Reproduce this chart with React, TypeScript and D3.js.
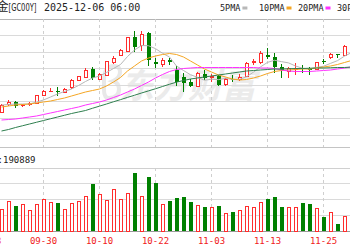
import React from "react";
import * as d3 from "d3";

const stockName = "黄金";
const stockCode = "[GC00Y]";
const stamp = "2025-12-06 06:00";
const maNames = ["5PMA", "10PMA", "20PMA", "30PMA"];
const maColors = ["#b8b8b8", "#f5a623", "#ff33ff", "#2f7f4f"];
const volPrefix = "成交量:";
const volValue = "190889";

const hiddenDates = ["09-18", "09-19"];
const dates = [
  "09-22", "09-23", "09-24", "09-25", "09-26", "09-29", "09-30",
  "10-01", "10-02", "10-03", "10-06", "10-07", "10-08", "10-09", "10-10",
  "10-13", "10-14", "10-15", "10-16", "10-17", "10-20", "10-21", "10-22",
  "10-23", "10-24", "10-27", "10-28", "10-29", "10-30", "10-31", "11-03",
  "11-04", "11-05", "11-06", "11-07", "11-10", "11-11", "11-12", "11-13",
  "11-14", "11-17", "11-18", "11-19", "11-20", "11-21", "11-24", "11-25",
  "11-26", "11-27", "11-28", "12-01",
];
const tickLabels = ["09-18", "09-30", "10-10", "10-22", "11-03", "11-13", "11-25"];

const opens = [
  3724, 3786, 3802, 3778, 3786, 3796, 3860, 3885, 3890, 3882,
  3918, 3980, 4002, 4068, 3988, 4020, 4122, 4180, 4212, 4326,
  4260, 4354, 4126, 4106, 4140, 4060, 4004, 3964, 3932, 4028,
  4004, 4012, 3944, 3992, 3984, 4012, 4124, 4120, 4184, 4164,
  4084, 4052, 4064, 4080, 4070, 4068, 4132, 4158, 4188, 4180,
  4204,
];
const highs = [
  3788, 3822, 3812, 3792, 3808, 3864, 3900, 3920, 3924, 3916,
  3988, 4016, 4078, 4086, 4038, 4132, 4172, 4228, 4328, 4372,
  4372, 4364, 4156, 4154, 4158, 4092, 4036, 3988, 4044, 4060,
  4032, 4020, 3996, 4020, 4028, 4124, 4148, 4212, 4236, 4196,
  4108, 4086, 4116, 4100, 4088, 4128, 4152, 4196, 4192, 4260,
  4276,
];
const lows = [
  3716, 3770, 3758, 3764, 3772, 3792, 3856, 3884, 3852, 3876,
  3912, 3972, 3996, 3980, 3980, 4012, 4106, 4172, 4204, 4206,
  4212, 4092, 4076, 4086, 4100, 3932, 3884, 3924, 3924, 3980,
  3968, 3932, 3936, 3964, 3972, 4004, 4104, 4108, 4152, 4036,
  3996, 3996, 4020, 4036, 4020, 4060, 4108, 4152, 4160, 4172,
  4196,
];
const closes = [
  3780, 3802, 3774, 3780, 3790, 3860, 3886, 3888, 3886, 3908,
  3980, 4006, 4060, 3994, 4026, 4126, 4154, 4220, 4318, 4246,
  4346, 4140, 4106, 4134, 4122, 3964, 3956, 3936, 4032, 4000,
  4008, 3940, 3988, 3984, 4004, 4114, 4128, 4196, 4164, 4086,
  4060, 4076, 4072, 4072, 4064, 4120, 4124, 4186, 4182, 4246,
  4260,
];
const volumes = [
  176000, 240000, 200000, 216000, 168000, 216000, 256000, 232000, 224000, 176000,
  224000, 240000, 280000, 376000, 296000, 248000, 336000, 256000, 304000, 464000,
  276000, 432000, 384000, 216000, 240000, 264000, 276000, 232000, 204000, 192000,
  192000, 204000, 140000, 152000, 168000, 200000, 192000, 232000, 256000, 272000,
  192000, 192000, 192000, 224000, 216000, 184000, 112000, 152000, 56000, 120000,
  190889,
];
const ma5 = [
  3780, 3784, 3788, 3788, 3788, 3804, 3820, 3844, 3868, 3888,
  3908, 3936, 3968, 3996, 4012, 4040, 4072, 4104, 4168, 4220,
  4256, 4254, 4231, 4194, 4164, 4092, 4056, 4022, 4002, 3978,
  3986, 3983, 3994, 3984, 3985, 4006, 4043, 4085, 4121, 4138,
  4127, 4117, 4092, 4074, 4069, 4081, 4090, 4113, 4135, 4171,
  4199,
];
const ma10 = [
  3764, 3772, 3780, 3784, 3788, 3796, 3804, 3812, 3824, 3836,
  3852, 3868, 3884, 3896, 3908, 3932, 3964, 4000, 4052, 4092,
  4132, 4156, 4172, 4184, 4192, 4184, 4164, 4132, 4100, 4068,
  4044, 4020, 4004, 3988, 3980, 3984, 3996, 4012, 4032, 4048,
  4056, 4060, 4064, 4068, 4068, 4076, 4084, 4092, 4104, 4120,
  4136,
];
const ma20 = [
  3660, 3664, 3668, 3676, 3684, 3692, 3704, 3716, 3728, 3740,
  3752, 3764, 3780, 3792, 3804, 3820, 3840, 3860, 3884, 3908,
  3936, 3964, 3996, 4024, 4048, 4064, 4072, 4076, 4080, 4080,
  4080, 4080, 4080, 4080, 4080, 4080, 4080, 4076, 4076, 4072,
  4060, 4052, 4048, 4048, 4048, 4052, 4056, 4060, 4068, 4076,
  4084,
];
const ma30 = [
  3572, 3584, 3600, 3614, 3628, 3642, 3656, 3670, 3684, 3698,
  3712, 3724, 3736, 3754, 3771, 3788, 3806, 3823, 3841, 3858,
  3876, 3893, 3910, 3928, 3946, 3963, 3976, 3988, 3996, 4004,
  4012, 4020, 4028, 4036, 4044, 4052, 4056, 4060, 4064, 4068,
  4068, 4070, 4072, 4072, 4074, 4076, 4076, 4078, 4080, 4080,
  4084,
];

const RED = "#ff2d2d";
const GREEN = "#008000";

export default function App() {
  const W = 350;
  const H = 250;
  const mainTop = 19;
  const mainBottom = 135;
  const volTop = 147;
  const volLabelBottom = 168;
  const volBase = 231;

  const x = d3
    .scalePoint<string>()
    .domain([...hiddenDates, ...dates])
    .range([-12.5, 351.5]);
  const y = d3.scaleLinear().domain([3540, 4468]).range([mainBottom, mainTop]);
  const yv = d3.scaleLinear().domain([0, 504000]).range([volBase, volLabelBottom]);

  const mainGrid = d3.range(1, 8).map((k) => mainTop + (k * (mainBottom - mainTop)) / 7);
  const volGrid = d3.range(1, 4).map((k) => volLabelBottom + (k * (volBase - volLabelBottom)) / 4);

  const maLine = d3
    .line<number>()
    .x((_, i) => x(dates[i]) as number)
    .y((v) => y(v));
  const mas = [ma5, ma10, ma20, ma30];

  const mono = "DejaVu Sans Mono, monospace";

  return (
    <svg
      width={W}
      height={H}
      style={{ position: "absolute", left: 0, top: 0, background: "#fff" }}
      fontFamily={mono}
    >
      <rect x={0} y={0} width={W} height={H} fill="#fff" />

      {/* watermark */}
      <g fill="#ebebeb" opacity={0.9}>
        <path
          d="M104,80 q0,-14 10,-14 q6,0 6,6 q0,6 -7,9 q6,2 6,8 q0,9 -10,9 q-5,0 -5,-8 z"
          fill="none"
          stroke="#e6e6e6"
          strokeWidth={4}
        />
        <text
          x={120}
          y={98}
          fontSize={34}
          fontWeight="bold"
          fontStyle="italic"
          fontFamily="Noto Sans CJK SC"
          fill="#e9e9e9"
        >
          东方财富
        </text>
      </g>

      {/* horizontal grid */}
      <g shapeRendering="crispEdges">
        <line x1={0} x2={W} y1={mainTop} y2={mainTop} stroke="#b4b4b4" />
        {mainGrid.map((gy, i) => (
          <line key={i} x1={0} x2={W} y1={gy} y2={gy} stroke="#dadada" />
        ))}
        <line x1={0} x2={W} y1={volTop} y2={volTop} stroke="#c4c4c4" />
        <line x1={0} x2={W} y1={volLabelBottom} y2={volLabelBottom} stroke="#d0d0d0" />
        {volGrid.map((gy, i) => (
          <line key={i} x1={0} x2={W} y1={gy} y2={gy} stroke="#dadada" />
        ))}
        <line x1={0} x2={W} y1={volBase} y2={volBase} stroke="#9a9a9a" />
      </g>

      {/* vertical dashed grid */}
      <g shapeRendering="crispEdges" stroke="#cfcfcf" strokeDasharray="3,3">
        {tickLabels.map((d) => (
          <g key={d}>
            <line x1={x(d)} x2={x(d)} y1={mainTop} y2={volTop} />
            <line x1={x(d)} x2={x(d)} y1={volLabelBottom} y2={volBase} />
          </g>
        ))}
      </g>

      {/* candles */}
      <g shapeRendering="crispEdges">
        {dates.map((d, i) => {
          const cx = x(d) as number;
          const o = opens[i];
          const c = closes[i];
          const up = c >= o;
          const top = y(Math.max(o, c));
          const bot = y(Math.min(o, c));
          const hy = y(highs[i]);
          const ly = y(lows[i]);
          if (up) {
            return (
              <g key={d} stroke={RED} fill="#fff">
                <line x1={cx} x2={cx} y1={hy} y2={top} />
                <line x1={cx} x2={cx} y1={bot} y2={ly} />
                <rect x={cx - 1} y={top} width={3} height={Math.max(0, bot - top)} />
              </g>
            );
          }
          return (
            <g key={d}>
              <line x1={cx} x2={cx} y1={hy} y2={ly} stroke={GREEN} />
              <rect x={cx - 1.5} y={top} width={4} height={Math.max(1, bot - top)} fill={GREEN} />
            </g>
          );
        })}
      </g>

      {/* moving averages */}
      <g fill="none" strokeWidth={1}>
        {mas.map((m, k) => (
          <path key={k} d={maLine(m) || ""} stroke={maColors[k]} />
        ))}
      </g>

      {/* volume bars */}
      <g shapeRendering="crispEdges">
        {dates.map((d, i) => {
          const cx = x(d) as number;
          const up = closes[i] >= opens[i];
          const top = yv(volumes[i]);
          return up ? (
            <rect
              key={d}
              x={cx - 1}
              y={top}
              width={3}
              height={volBase - top}
              fill="#fff"
              stroke={RED}
            />
          ) : (
            <rect key={d} x={cx - 1.5} y={top} width={4} height={volBase - top} fill={GREEN} />
          );
        })}
      </g>

      {/* title */}
      <text y={11} fontSize={10} fill="#222">
        <tspan x={8.5} textAnchor="end" fontFamily="Noto Sans CJK SC" fontSize={12}>
          {stockName}
        </tspan>
      </text>
      <text x={8.5} y={11} fontSize={10} fill="#222" fontFamily="DejaVu Sans" textLength={28} lengthAdjust="spacingAndGlyphs">
        {stockCode}
      </text>
      <text x={44} y={11} fontSize={10} fill="#222">
        {stamp}
      </text>

      {/* legend */}
      {maNames.map((n, k) => {
        const lx = 220 + k * 39;
        const tw = n.length * 5.1;
        return (
          <g key={n}>
            <text x={lx} y={11} fontSize={8.5} fill="#222">
              {n}
            </text>
            <rect x={lx + tw + 2} y={6.5} width={5} height={3} fill={maColors[k]} />
          </g>
        );
      })}

      {/* volume label */}
      <text x={3} y={163} fontSize={9} fill="#222" textAnchor="end">
        {volPrefix}
      </text>
      <text x={3} y={163} fontSize={9} fill="#222">
        {volValue}
      </text>

      {/* date labels */}
      {tickLabels.map((d) => (
        <text key={d} x={x(d)} y={244} fontSize={9} fill="#f02020" textAnchor="middle">
          {d}
        </text>
      ))}
    </svg>
  );
}
